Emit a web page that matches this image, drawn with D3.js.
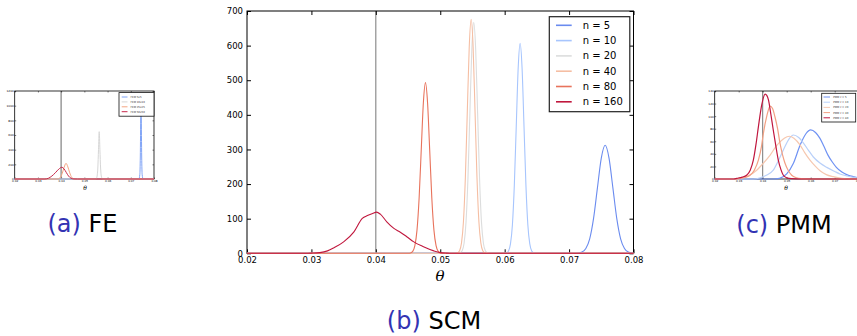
<!DOCTYPE html>
<html>
<head>
<meta charset="utf-8">
<script src="https://cdn.jsdelivr.net/npm/d3@7"></script>
<style>
  body { margin: 0; background: #fff; }
  svg { display: block; }
</style>
</head>
<body>
<svg id="chart" width="857" height="336"></svg>
<script>
// ---- data ----
const thetaTicks = [0.02, 0.03, 0.04, 0.05, 0.06, 0.07, 0.08];
const trueTheta = 0.04;

// (b) SCM, density of theta for increasing n
const scmLabels = ["n = 5", "n = 10", "n = 20", "n = 40", "n = 80", "n = 160"];
const scmTicksY = [0, 100, 200, 300, 400, 500, 600, 700];
const scmN5 = [[0.020, 0], [0.0710, 0], [0.0714, 0.7], [0.0720, 3.5], [0.0726, 14], [0.0732, 42], [0.0738, 101],
  [0.0744, 189], [0.0750, 275], [0.0756, 312], [0.0762, 275], [0.0768, 189], [0.0774, 101], [0.0780, 42],
  [0.0786, 14], [0.0792, 3.5], [0.0798, 0.7], [0.0800, 0.3]];
const scmN10 = [[0.020, 0], [0.0600, 0], [0.0603, 1.3], [0.0606, 6.7], [0.0609, 27], [0.0612, 82], [0.0615, 197],
  [0.0618, 368], [0.0621, 536], [0.0624, 607], [0.0627, 536], [0.0630, 368], [0.0633, 197], [0.0636, 82],
  [0.0639, 27], [0.0642, 6.7], [0.0645, 1.3], [0.0648, 0], [0.080, 0]];
const scmN20 = [[0.020, 0], [0.0528, 0], [0.0531, 1.5], [0.0534, 7.4], [0.0537, 29], [0.0540, 90], [0.0543, 217],
  [0.0546, 405], [0.0549, 589], [0.0552, 667], [0.0555, 589], [0.0558, 405], [0.0561, 217], [0.0564, 90],
  [0.0567, 29], [0.0570, 7.4], [0.0573, 1.5], [0.0576, 0], [0.080, 0]];
const scmN40 = [[0.020, 0], [0.0524, 0], [0.0527, 1.5], [0.0530, 7.5], [0.0533, 30], [0.0536, 91], [0.0539, 220],
  [0.0542, 410], [0.0545, 597], [0.0548, 676], [0.0551, 597], [0.0554, 410], [0.0557, 220], [0.0560, 91],
  [0.0563, 30], [0.0566, 7.5], [0.0569, 1.5], [0.0572, 0], [0.080, 0]];
const scmN80 = [[0.020, 0], [0.04507, 0], [0.04540, 1.1], [0.04573, 5.5], [0.04606, 22], [0.04639, 67], [0.04672, 160],
  [0.04705, 299], [0.04738, 435], [0.04770, 493], [0.04803, 435], [0.04836, 299], [0.04869, 160], [0.04902, 67],
  [0.04935, 22], [0.04968, 5.5], [0.05001, 1.1], [0.05034, 0], [0.080, 0]];
const scmN160 = [[0.020, 0], [0.0290, 0], [0.0300, 0.5], [0.0313, 2], [0.0325, 7], [0.0335, 16], [0.0350, 33],
  [0.0366, 62], [0.0379, 101], [0.0387, 109], [0.0395, 115], [0.0401, 119], [0.0407, 113], [0.0417, 91],
  [0.0428, 72], [0.0438, 61], [0.0448, 48], [0.0459, 33], [0.0474, 19], [0.0490, 7], [0.0500, 2],
  [0.0510, 0.5], [0.0520, 0], [0.080, 0]];

// (a) FE
const feLabels = ["FEM 5x5", "FEM 10x10", "FEM 25x25", "FEM 50x50"];
const feTicksY = [0, 200, 400, 600, 800, 1000, 1200];
const feFem5 = [[0.020, 0], [0.0735, 0], [0.0739, 60], [0.0741, 300], [0.0743, 900], [0.0744, 1100],
  [0.0745, 900], [0.0747, 300], [0.0749, 60], [0.0753, 0], [0.080, 0]];
const feFem10 = [[0.020, 0], [0.0550, 0], [0.0555, 40], [0.0558, 150], [0.0561, 400], [0.0564, 645],
  [0.0567, 400], [0.0570, 150], [0.0573, 40], [0.0578, 0], [0.080, 0]];
const feFem25 = [[0.020, 0], [0.0385, 0], [0.0395, 15], [0.0405, 80], [0.0413, 160], [0.0421, 214],
  [0.0429, 165], [0.0437, 85], [0.0445, 25], [0.0455, 2], [0.0465, 0], [0.080, 0]];
const feFem50 = [[0.020, 0], [0.0330, 0], [0.0345, 10], [0.0360, 40], [0.0375, 85], [0.0390, 135],
  [0.0403, 160], [0.0412, 140], [0.0422, 90], [0.0432, 40], [0.0442, 12], [0.0455, 1], [0.0470, 0], [0.080, 0]];

// (c) PMM
const pmmLabels = ["PMM ℓ = 5", "PMM ℓ = 10", "PMM ℓ = 20", "PMM ℓ = 40", "PMM ℓ = 80"];
const pmmTicksY = [0, 20, 40, 60, 80, 100, 120, 140];
const pmmL5 = [[0.020, 0], [0.044, 0], [0.047, 1], [0.050, 8], [0.0528, 25], [0.0556, 54], [0.058, 72],
  [0.060, 78], [0.062, 74], [0.0638, 65], [0.0655, 52], [0.0672, 38], [0.0690, 27], [0.0707, 18.5],
  [0.073, 11], [0.075, 7], [0.077, 4.5], [0.079, 2.6], [0.080, 2]];
const pmmL10 = [[0.020, 0], [0.036, 0], [0.039, 2], [0.0415, 6], [0.0444, 14], [0.0465, 29], [0.0486, 46],
  [0.051, 64], [0.0528, 70], [0.055, 66], [0.057, 57], [0.059, 46], [0.0611, 35], [0.064, 25],
  [0.0667, 18.5], [0.070, 12], [0.0722, 8], [0.075, 5], [0.078, 2.5], [0.080, 1.8]];
const pmmL20 = [[0.020, 0], [0.029, 0], [0.0306, 1], [0.034, 5], [0.0375, 14], [0.040, 24], [0.0431, 38],
  [0.0452, 50], [0.0472, 59], [0.049, 65], [0.0511, 68], [0.053, 65], [0.0556, 54], [0.0575, 42],
  [0.0597, 30], [0.062, 20], [0.0639, 13], [0.0665, 7], [0.0694, 3.7], [0.073, 1], [0.076, 0.3], [0.080, 0]];
const pmmL40 = [[0.020, 0], [0.029, 0], [0.0306, 1], [0.0330, 3], [0.0347, 6], [0.0365, 14], [0.0382, 30],
  [0.0395, 52], [0.0403, 73], [0.0417, 100], [0.0431, 116], [0.0441, 112], [0.0451, 99], [0.0462, 80],
  [0.0472, 57], [0.0483, 38], [0.0493, 25], [0.0507, 13], [0.0521, 6], [0.054, 2], [0.056, 0.5],
  [0.060, 0], [0.080, 0]];
const pmmL80 = [[0.020, 0], [0.028, 0], [0.0292, 1], [0.0315, 3], [0.0333, 6], [0.0348, 14], [0.0361, 30],
  [0.0372, 55], [0.0382, 83], [0.0396, 118], [0.0410, 135], [0.0417, 133], [0.0424, 126], [0.0434, 103],
  [0.0444, 78], [0.0455, 52], [0.0465, 30], [0.0476, 15], [0.0486, 6], [0.050, 2], [0.052, 0.5],
  [0.056, 0], [0.080, 0]];

const captionTags = ["(a)", "(b)", "(c)"];
const captionNames = ["FE", "SCM", "PMM"];

// ---- drawing ----
const svg = d3.select("#chart");

const scmColors = ["#6a8bef", "#a7c5fd", "#dcdddd", "#f5bea3", "#e8735c", "#c0173d"];
const feColors = ["#7fa3f6", "#d6d6d6", "#f4a582", "#c8284a"];
const pmmColors = ["#6f92f3", "#b9d0f9", "#f6c8b0", "#f2a083", "#c0163e"];

function drawPanel(p) {
  const x = d3.scaleLinear().domain([0.02, 0.08]).range([p.left, p.left + p.width]);
  const y = d3.scaleLinear().domain([0, p.yMax]).range([p.top + p.height, p.top]);
  const g = svg.append("g");

  // true value
  g.append("line")
    .attr("x1", x(trueTheta)).attr("x2", x(trueTheta))
    .attr("y1", y(p.yMax)).attr("y2", y(0))
    .attr("stroke", p.refColor)
    .attr("stroke-width", p.refWidth);

  const fmtX = d3.format(".2f");
  const styleAxis = sel => {
    sel.select(".domain").remove();
    sel.selectAll("line").attr("stroke", "#000").attr("stroke-width", p.tickWidth);
    sel.selectAll("text")
      .style("font-family", "DejaVu Sans, sans-serif")
      .style("font-size", p.fontSize + "px")
      .attr("fill", "#000");
  };

  g.append("g").attr("transform", `translate(0,${y(0)})`)
    .call(d3.axisBottom(x).tickValues(thetaTicks).tickFormat(fmtX)
      .tickSize(-p.tick).tickSizeOuter(0).tickPadding(p.padX))
    .call(styleAxis);
  g.append("g").attr("transform", `translate(0,${y(p.yMax)})`)
    .call(d3.axisTop(x).tickValues(thetaTicks).tickFormat("")
      .tickSize(-p.tick).tickSizeOuter(0))
    .call(styleAxis);
  g.append("g").attr("transform", `translate(${x(0.02)},0)`)
    .call(d3.axisLeft(y).tickValues(p.yTicks).tickFormat(d => d)
      .tickSize(-p.tick).tickSizeOuter(0).tickPadding(p.padY))
    .call(styleAxis);
  g.append("g").attr("transform", `translate(${x(0.08)},0)`)
    .call(d3.axisRight(y).tickValues(p.yTicks).tickFormat("")
      .tickSize(-p.tick).tickSizeOuter(0))
    .call(styleAxis);

  g.append("rect")
    .attr("x", x(0.02)).attr("y", y(p.yMax))
    .attr("width", x(0.08) - x(0.02)).attr("height", y(0) - y(p.yMax))
    .attr("fill", "none").attr("stroke", "#000").attr("stroke-width", p.frameWidth);

  const line = d3.line()
    .x(d => x(d[0]))
    .y(d => y(d[1]))
    .curve(d3.curveMonotoneX);

  g.selectAll(".curve")
    .data(p.series)
    .enter()
    .append("path")
    .attr("class", "curve")
    .attr("d", line)
    .attr("fill", "none")
    .attr("stroke", (d, i) => p.colors[i])
    .attr("stroke-width", p.lineWidth);

  // legend
  const L = p.legend;
  g.append("rect")
    .attr("x", L.x).attr("y", L.y).attr("width", L.w).attr("height", L.h)
    .attr("fill", "#fff").attr("stroke", L.stroke).attr("stroke-width", L.strokeWidth);

  const items = g.selectAll(".legend-item")
    .data(p.labels)
    .enter()
    .append("g")
    .attr("class", "legend-item")
    .attr("transform", (d, i) => `translate(0,${L.rowStart + i * L.rowStep})`);

  items.append("line")
    .attr("x1", L.lineX1).attr("x2", L.lineX2)
    .attr("stroke", (d, i) => p.colors[i])
    .attr("stroke-width", L.lineWidth);

  items.append("text")
    .attr("x", L.textX)
    .attr("dy", "0.35em")
    .style("font-family", "DejaVu Sans, sans-serif")
    .style("font-size", L.fontSize + "px")
    .attr("fill", L.textColor)
    .text(d => d);

  // theta label
  g.append("text")
    .attr("x", p.theta.x).attr("y", p.theta.y)
    .attr("text-anchor", "middle")
    .style("font-family", "DejaVu Serif, serif")
    .style("font-style", "italic")
    .style("font-size", p.theta.size + "px")
    .text("θ");
}

drawPanel({
  left: 247, top: 11, width: 386.5, height: 242.3,
  yMax: 700, yTicks: scmTicksY,
  series: [scmN5, scmN10, scmN20, scmN40, scmN80, scmN160],
  colors: scmColors, labels: scmLabels,
  tick: 4, tickWidth: 1, padX: 4, padY: 4, fontSize: 8.5, frameWidth: 1,
  lineWidth: 1.1, refColor: "#777", refWidth: 1,
  legend: { x: 549.3, y: 16.7, w: 80.5, h: 95, rowStart: 25.3, rowStep: 15.3,
    lineX1: 556, lineX2: 571.7, textX: 582.7, fontSize: 10, lineWidth: 1.6,
    stroke: "#222", strokeWidth: 1.2, textColor: "#000" },
  theta: { x: 440, y: 281, size: 15 }
});

drawPanel({
  left: 14.7, top: 91, width: 139.3, height: 88,
  yMax: 1200, yTicks: feTicksY,
  series: [feFem5, feFem10, feFem25, feFem50],
  colors: feColors, labels: feLabels,
  tick: 1.5, tickWidth: 0.5, padX: 1.3, padY: 1, fontSize: 2.8, frameWidth: 0.8,
  lineWidth: 1, refColor: "#999", refWidth: 1.5,
  legend: { x: 119, y: 92.6, w: 35, h: 23.6, rowStart: 97, rowStep: 4.9,
    lineX1: 121.7, lineX2: 127.5, textX: 130.5, fontSize: 2.6, lineWidth: 1,
    stroke: "#111", strokeWidth: 0.8, textColor: "#333" },
  theta: { x: 85, y: 189.5, size: 6 }
});

drawPanel({
  left: 714.7, top: 91, width: 144, height: 88,
  yMax: 140, yTicks: pmmTicksY,
  series: [pmmL5, pmmL10, pmmL20, pmmL40, pmmL80],
  colors: pmmColors, labels: pmmLabels,
  tick: 1.5, tickWidth: 0.5, padX: 1.3, padY: 1, fontSize: 2.8, frameWidth: 0.8,
  lineWidth: 1.2, refColor: "#777", refWidth: 1,
  legend: { x: 821.7, y: 93.3, w: 34, h: 28.7, rowStart: 97, rowStep: 5.2,
    lineX1: 823.5, lineX2: 830, textX: 833.3, fontSize: 2.6, lineWidth: 1,
    stroke: "#111", strokeWidth: 0.8, textColor: "#333" },
  theta: { x: 786, y: 189.5, size: 6 }
});

// sub-figure captions
const captionPos = [[82.5, 232], [434, 329], [784, 233]];

svg.selectAll(".caption")
  .data(captionTags)
  .enter()
  .append("text")
  .attr("class", "caption")
  .attr("x", (d, i) => captionPos[i][0])
  .attr("y", (d, i) => captionPos[i][1])
  .attr("text-anchor", "middle")
  .style("font-family", "DejaVu Sans, sans-serif")
  .style("font-size", "24px")
  .each(function (d, i) {
    const t = d3.select(this);
    t.append("tspan").attr("fill", "#3333b3").text(d);
    t.append("tspan").attr("fill", "#000").text(" " + captionNames[i]);
  });
</script>
</body>
</html>
